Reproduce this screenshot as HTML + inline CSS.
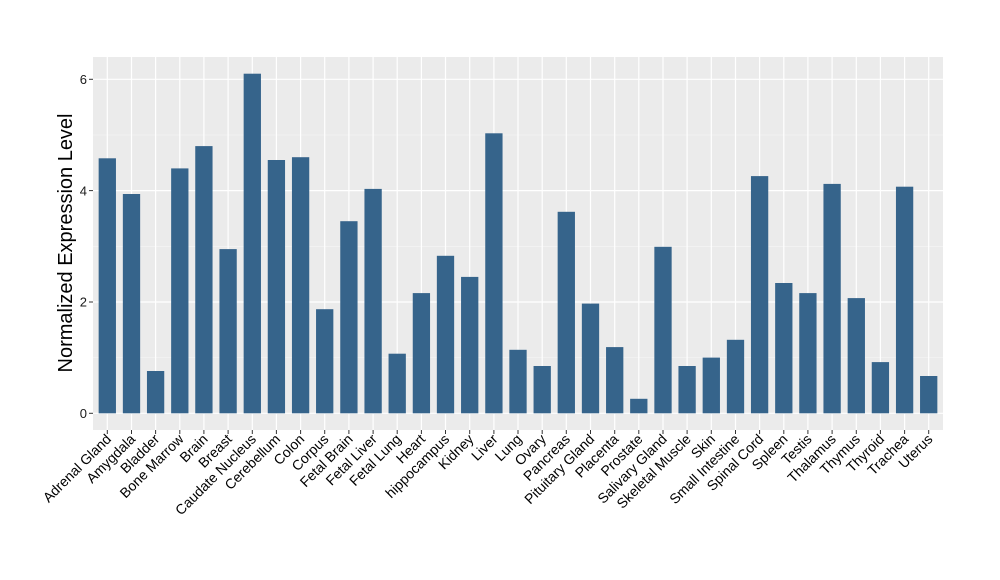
<!DOCTYPE html>
<html><head><meta charset="utf-8"><style>html,body{margin:0;padding:0;background:#fff}svg{display:block}text{font-family:"Liberation Sans",Arial,sans-serif}</style></head><body>
<svg width="1000" height="580" viewBox="0 0 1000 580" xmlns="http://www.w3.org/2000/svg">
<rect x="93" y="57" width="850" height="373" fill="#ebebeb"/>
<g stroke="#f5f5f5" stroke-width="0.6">
<line x1="93" x2="943" y1="357.6" y2="357.6"/><line x1="93" x2="943" y1="246.3" y2="246.3"/><line x1="93" x2="943" y1="135" y2="135"/>
</g>
<g stroke="#fff" stroke-width="1.2">
<line x1="93" x2="943" y1="413.3" y2="413.3"/><line x1="93" x2="943" y1="302" y2="302"/><line x1="93" x2="943" y1="190.6" y2="190.6"/><line x1="93" x2="943" y1="79.3" y2="79.3"/>
<line x1="107.3" x2="107.3" y1="57" y2="430"/><line x1="131.5" x2="131.5" y1="57" y2="430"/><line x1="155.6" x2="155.6" y1="57" y2="430"/><line x1="179.8" x2="179.8" y1="57" y2="430"/><line x1="203.9" x2="203.9" y1="57" y2="430"/><line x1="228.1" x2="228.1" y1="57" y2="430"/><line x1="252.3" x2="252.3" y1="57" y2="430"/><line x1="276.4" x2="276.4" y1="57" y2="430"/><line x1="300.6" x2="300.6" y1="57" y2="430"/><line x1="324.7" x2="324.7" y1="57" y2="430"/><line x1="348.9" x2="348.9" y1="57" y2="430"/><line x1="373.1" x2="373.1" y1="57" y2="430"/><line x1="397.2" x2="397.2" y1="57" y2="430"/><line x1="421.4" x2="421.4" y1="57" y2="430"/><line x1="445.5" x2="445.5" y1="57" y2="430"/><line x1="469.7" x2="469.7" y1="57" y2="430"/><line x1="493.9" x2="493.9" y1="57" y2="430"/><line x1="518" x2="518" y1="57" y2="430"/><line x1="542.2" x2="542.2" y1="57" y2="430"/><line x1="566.3" x2="566.3" y1="57" y2="430"/><line x1="590.5" x2="590.5" y1="57" y2="430"/><line x1="614.7" x2="614.7" y1="57" y2="430"/><line x1="638.8" x2="638.8" y1="57" y2="430"/><line x1="663" x2="663" y1="57" y2="430"/><line x1="687.1" x2="687.1" y1="57" y2="430"/><line x1="711.3" x2="711.3" y1="57" y2="430"/><line x1="735.5" x2="735.5" y1="57" y2="430"/><line x1="759.6" x2="759.6" y1="57" y2="430"/><line x1="783.8" x2="783.8" y1="57" y2="430"/><line x1="807.9" x2="807.9" y1="57" y2="430"/><line x1="832.1" x2="832.1" y1="57" y2="430"/><line x1="856.3" x2="856.3" y1="57" y2="430"/><line x1="880.4" x2="880.4" y1="57" y2="430"/><line x1="904.6" x2="904.6" y1="57" y2="430"/><line x1="928.7" x2="928.7" y1="57" y2="430"/>
</g>
<g fill="#36648b">
<rect x="98.65" y="158.3" width="17.3" height="255"/>
<rect x="122.85" y="194" width="17.3" height="219.3"/>
<rect x="146.95" y="371" width="17.3" height="42.3"/>
<rect x="171.15" y="168.4" width="17.3" height="244.9"/>
<rect x="195.25" y="146.1" width="17.3" height="267.2"/>
<rect x="219.45" y="249.1" width="17.3" height="164.2"/>
<rect x="243.65" y="73.7" width="17.3" height="339.6"/>
<rect x="267.75" y="160" width="17.3" height="253.3"/>
<rect x="291.95" y="157.2" width="17.3" height="256.1"/>
<rect x="316.05" y="309.2" width="17.3" height="104.1"/>
<rect x="340.25" y="221.2" width="17.3" height="192.1"/>
<rect x="364.45" y="188.9" width="17.3" height="224.4"/>
<rect x="388.55" y="353.7" width="17.3" height="59.6"/>
<rect x="412.75" y="293.1" width="17.3" height="120.2"/>
<rect x="436.85" y="255.8" width="17.3" height="157.5"/>
<rect x="461.05" y="276.9" width="17.3" height="136.4"/>
<rect x="485.25" y="133.3" width="17.3" height="280"/>
<rect x="509.35" y="349.8" width="17.3" height="63.5"/>
<rect x="533.55" y="366" width="17.3" height="47.3"/>
<rect x="557.65" y="211.8" width="17.3" height="201.5"/>
<rect x="581.85" y="303.6" width="17.3" height="109.7"/>
<rect x="606.05" y="347.1" width="17.3" height="66.2"/>
<rect x="630.15" y="398.8" width="17.3" height="14.5"/>
<rect x="654.35" y="246.8" width="17.3" height="166.5"/>
<rect x="678.45" y="366" width="17.3" height="47.3"/>
<rect x="702.65" y="357.6" width="17.3" height="55.7"/>
<rect x="726.85" y="339.8" width="17.3" height="73.5"/>
<rect x="750.95" y="176.1" width="17.3" height="237.2"/>
<rect x="775.15" y="283" width="17.3" height="130.3"/>
<rect x="799.25" y="293.1" width="17.3" height="120.2"/>
<rect x="823.45" y="183.9" width="17.3" height="229.4"/>
<rect x="847.65" y="298.1" width="17.3" height="115.2"/>
<rect x="871.75" y="362.1" width="17.3" height="51.2"/>
<rect x="895.95" y="186.7" width="17.3" height="226.6"/>
<rect x="920.05" y="376" width="17.3" height="37.3"/>
</g>
<g stroke="#333" stroke-width="1">
<line x1="89" x2="93" y1="413.3" y2="413.3"/><line x1="89" x2="93" y1="302" y2="302"/><line x1="89" x2="93" y1="190.6" y2="190.6"/><line x1="89" x2="93" y1="79.3" y2="79.3"/>
</g>
<g font-size="13" fill="#1a1a1a" text-anchor="end">
<text x="87" y="418">0</text><text x="87" y="306.7">2</text><text x="87" y="195.3">4</text><text x="87" y="84">6</text>
</g>
<text transform="translate(72,243) rotate(-90)" font-size="20" text-anchor="middle" fill="#000">Normalized Expression Level</text>
<g font-size="14" fill="#000" text-anchor="end">
<text transform="translate(112,440) rotate(-45)">Adrenal Gland</text>
<text transform="translate(136.2,440) rotate(-45)">Amygdala</text>
<text transform="translate(160.3,440) rotate(-45)">Bladder</text>
<text transform="translate(184.5,440) rotate(-45)">Bone Marrow</text>
<text transform="translate(208.6,440) rotate(-45)">Brain</text>
<text transform="translate(232.8,440) rotate(-45)">Breast</text>
<text transform="translate(257,440) rotate(-45)">Caudate Nucleus</text>
<text transform="translate(281.1,440) rotate(-45)">Cerebellum</text>
<text transform="translate(305.3,440) rotate(-45)">Colon</text>
<text transform="translate(329.4,440) rotate(-45)">Corpus</text>
<text transform="translate(353.6,440) rotate(-45)">Fetal Brain</text>
<text transform="translate(377.8,440) rotate(-45)">Fetal Liver</text>
<text transform="translate(401.9,440) rotate(-45)">Fetal Lung</text>
<text transform="translate(426.1,440) rotate(-45)">Heart</text>
<text transform="translate(450.2,440) rotate(-45)">hippocampus</text>
<text transform="translate(474.4,440) rotate(-45)">Kidney</text>
<text transform="translate(498.6,440) rotate(-45)">Liver</text>
<text transform="translate(522.7,440) rotate(-45)">Lung</text>
<text transform="translate(546.9,440) rotate(-45)">Ovary</text>
<text transform="translate(571,440) rotate(-45)">Pancreas</text>
<text transform="translate(595.2,440) rotate(-45)">Pituitary Gland</text>
<text transform="translate(619.4,440) rotate(-45)">Placenta</text>
<text transform="translate(643.5,440) rotate(-45)">Prostate</text>
<text transform="translate(667.7,440) rotate(-45)">Salivary Gland</text>
<text transform="translate(691.8,440) rotate(-45)">Skeletal Muscle</text>
<text transform="translate(716,440) rotate(-45)">Skin</text>
<text transform="translate(740.2,440) rotate(-45)">Small Intestine</text>
<text transform="translate(764.3,440) rotate(-45)">Spinal Cord</text>
<text transform="translate(788.5,440) rotate(-45)">Spleen</text>
<text transform="translate(812.6,440) rotate(-45)">Testis</text>
<text transform="translate(836.8,440) rotate(-45)">Thalamus</text>
<text transform="translate(861,440) rotate(-45)">Thymus</text>
<text transform="translate(885.1,440) rotate(-45)">Thyroid</text>
<text transform="translate(909.3,440) rotate(-45)">Trachea</text>
<text transform="translate(933.4,440) rotate(-45)">Uterus</text>
</g>
<g stroke="#333" stroke-width="1">
<line x1="107.3" x2="107.3" y1="430" y2="434"/><line x1="131.5" x2="131.5" y1="430" y2="434"/><line x1="155.6" x2="155.6" y1="430" y2="434"/><line x1="179.8" x2="179.8" y1="430" y2="434"/><line x1="203.9" x2="203.9" y1="430" y2="434"/><line x1="228.1" x2="228.1" y1="430" y2="434"/><line x1="252.3" x2="252.3" y1="430" y2="434"/><line x1="276.4" x2="276.4" y1="430" y2="434"/><line x1="300.6" x2="300.6" y1="430" y2="434"/><line x1="324.7" x2="324.7" y1="430" y2="434"/><line x1="348.9" x2="348.9" y1="430" y2="434"/><line x1="373.1" x2="373.1" y1="430" y2="434"/><line x1="397.2" x2="397.2" y1="430" y2="434"/><line x1="421.4" x2="421.4" y1="430" y2="434"/><line x1="445.5" x2="445.5" y1="430" y2="434"/><line x1="469.7" x2="469.7" y1="430" y2="434"/><line x1="493.9" x2="493.9" y1="430" y2="434"/><line x1="518" x2="518" y1="430" y2="434"/><line x1="542.2" x2="542.2" y1="430" y2="434"/><line x1="566.3" x2="566.3" y1="430" y2="434"/><line x1="590.5" x2="590.5" y1="430" y2="434"/><line x1="614.7" x2="614.7" y1="430" y2="434"/><line x1="638.8" x2="638.8" y1="430" y2="434"/><line x1="663" x2="663" y1="430" y2="434"/><line x1="687.1" x2="687.1" y1="430" y2="434"/><line x1="711.3" x2="711.3" y1="430" y2="434"/><line x1="735.5" x2="735.5" y1="430" y2="434"/><line x1="759.6" x2="759.6" y1="430" y2="434"/><line x1="783.8" x2="783.8" y1="430" y2="434"/><line x1="807.9" x2="807.9" y1="430" y2="434"/><line x1="832.1" x2="832.1" y1="430" y2="434"/><line x1="856.3" x2="856.3" y1="430" y2="434"/><line x1="880.4" x2="880.4" y1="430" y2="434"/><line x1="904.6" x2="904.6" y1="430" y2="434"/><line x1="928.7" x2="928.7" y1="430" y2="434"/>
</g>
</svg>
</body></html>
